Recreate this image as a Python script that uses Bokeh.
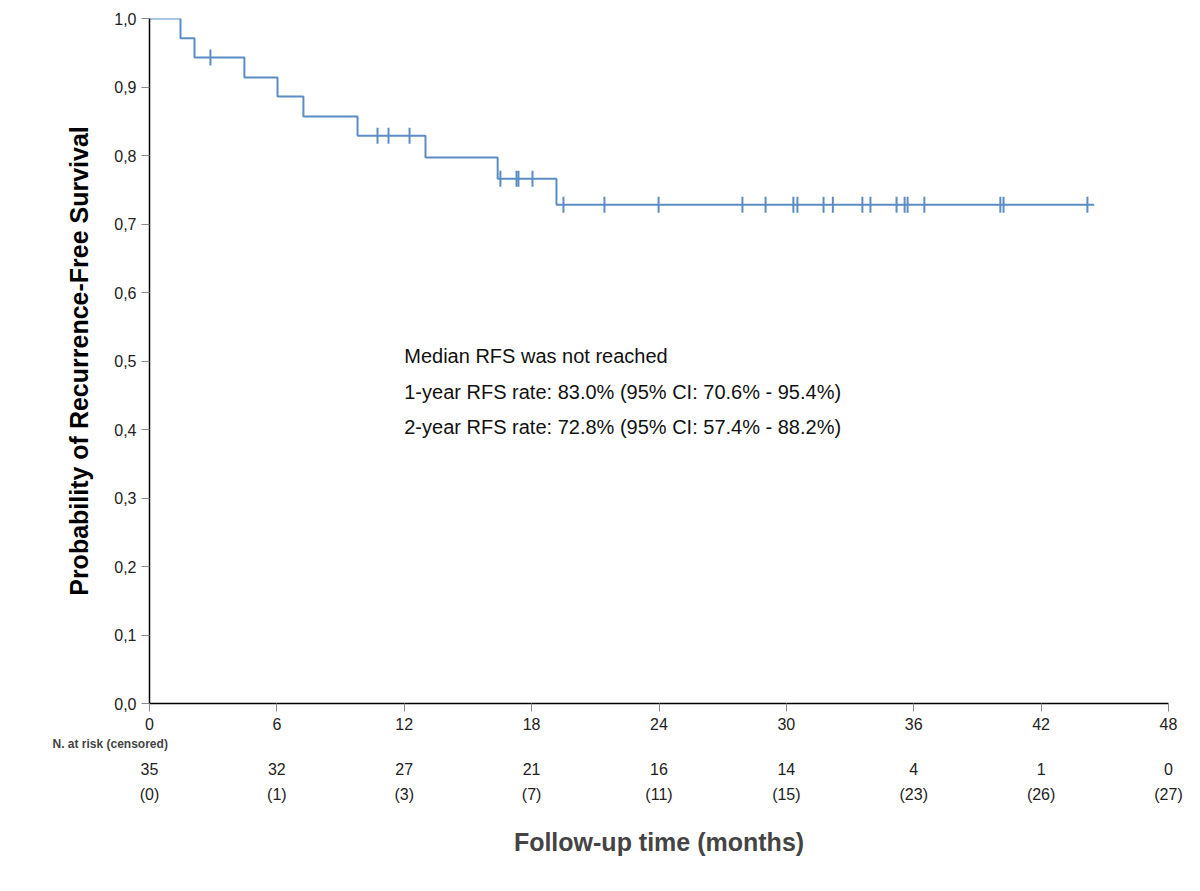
import numpy as np
from bokeh.plotting import figure
from bokeh.models import FixedTicker, Range1d, LinearAxis, Title, Label
from bokeh.embed import file_html
from bokeh.resources import INLINE

step_t = [0, 1.46, 2.12, 4.47, 6.03, 7.25, 9.80, 13.0, 16.4, 19.17, 44.5]
step_s = [1.0, 0.971, 0.943, 0.914, 0.886, 0.857, 0.829, 0.797, 0.766, 0.728, 0.728]
censor_t = [2.87, 10.74, 11.26, 12.25, 16.53, 17.29, 17.38, 18.04, 19.5, 21.43, 23.98,
            27.93, 29.02, 30.33, 30.52, 31.75, 32.19, 33.58, 33.96, 35.19, 35.57, 35.71,
            36.5, 40.08, 40.23, 44.18]
risk_times = [0, 6, 12, 18, 24, 30, 36, 42, 48]
at_risk = [35, 32, 27, 21, 16, 14, 4, 1, 0]
censored = [0, 1, 3, 7, 11, 15, 23, 26, 27]
notes = ["Median RFS was not reached",
         "1-year RFS rate: 83.0% (95% CI: 70.6% - 95.4%)",
         "2-year RFS rate: 72.8% (95% CI: 57.4% - 88.2%)"]
note_y = [0.508, 0.455, 0.404]

FONT = "Liberation Sans"
COL = "#5b8cc4"

p = figure(width=1184, height=875, output_backend="svg", toolbar_location=None,
           x_range=Range1d(0, 48), y_range=Range1d(0, 1.0),
           min_border_left=149, min_border_right=16, min_border_top=18, min_border_bottom=10)
p.grid.visible = False
p.outline_line_color = None

p.step(step_t, step_s, mode="after", line_color=COL, line_width=2)
cs = [step_s[np.searchsorted(step_t, t, side="right") - 1] for t in censor_t]
p.dash(censor_t, cs, angle=np.pi / 2, size=16, line_color=COL, line_width=2)

yt = [round(i * 0.1, 1) for i in range(11)]
p.yaxis.ticker = FixedTicker(ticks=yt)
p.yaxis.major_label_overrides = {v: f"{v:.1f}".replace(".", ",") for v in yt}
p.xaxis.ticker = FixedTicker(ticks=risk_times)
for ax in (p.xaxis[0], p.yaxis[0]):
    ax.axis_line_color = "black"
    ax.axis_line_width = 1.5
    ax.major_tick_line_color = "#888888"
    ax.major_tick_in = 0
    ax.major_tick_out = 8
    ax.minor_tick_line_color = None
    ax.major_label_text_font = FONT
    ax.major_label_text_font_size = "16px"
    ax.major_label_text_color = "#222222"
    ax.axis_label_text_font = FONT
    ax.axis_label_text_font_style = "bold"
    ax.axis_label_text_font_size = "25px"
    ax.axis_label_text_color = "black"
p.yaxis.axis_label = "Probability of Recurrence-Free Survival"
p.yaxis.axis_label_standoff = 18
p.xaxis.major_label_standoff = 6

for txt, y in zip(notes, note_y):
    p.add_layout(Label(x=12.0, y=y, text=txt, text_font=FONT, text_font_size="20px",
                       text_baseline="middle", text_color="#111111"))

p.add_layout(Title(text="N. at risk (censored)", align="left", offset=-97,
                   text_font=FONT, text_font_size="12px", text_font_style="bold",
                   standoff=4), "below")

def table_axis(labels, standoff):
    ax = LinearAxis(ticker=FixedTicker(ticks=risk_times),
                    major_label_overrides={t: str(v) for t, v in zip(risk_times, labels)})
    ax.axis_line_color = None
    ax.major_tick_line_color = None
    ax.minor_tick_line_color = None
    ax.major_label_standoff = standoff
    ax.major_label_text_font = FONT
    ax.major_label_text_font_size = "16px"
    ax.major_label_text_color = "#222222"
    p.add_layout(ax, "below")

table_axis(at_risk, 4)
table_axis([f"({c})" for c in censored], 2)

p.add_layout(Title(text="Follow-up time (months)", align="center", text_font=FONT,
                   text_font_size="25px", text_font_style="bold", standoff=40), "below")

open("out.html", "w").write(file_html(p, INLINE))
